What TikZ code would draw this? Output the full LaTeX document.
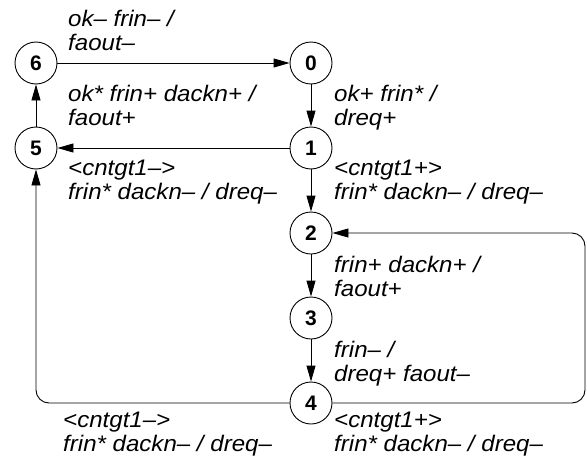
\documentclass[tikz,border=0pt]{standalone}
\usepackage{fontspec}
\setmainfont{Liberation Sans}
\newfontfamily\lblfont[FakeStretch=1.07]{Liberation Sans}
\usetikzlibrary{arrows.meta}
\tikzset{
  state/.style={circle,draw,line width=0.9pt,minimum size=42pt,inner sep=0pt,font=\fontsize{21}{21}\selectfont\bfseries},
  lbl/.style={anchor=base west,align=left,inner sep=0pt,font=\lblfont\fontsize{22.5}{24}\selectfont\itshape},
  tr/.style={draw,line width=0.9pt,-{Triangle[length=16pt,width=9pt]}},
}
\begin{document}
\begin{tikzpicture}[x=1pt,y=-1pt]
\useasboundingbox (0,0) rectangle (587,458);
\node[state] (s6) at (36,63) {6};
\node[state] (s0) at (311,63) {0};
\node[state] (s5) at (36,148) {5};
\node[state] (s1) at (311,148) {1};
\node[state] (s2) at (311,233) {2};
\node[state] (s3) at (311,318) {3};
\node[state] (s4) at (311,403) {4};
\coordinate (r1) at (585,403);
\coordinate (r2) at (585,233);
\coordinate (l1) at (36,403);
\draw[tr] (s6) -- (s0);
\draw[tr] (s0) -- (s1);
\draw[tr] (s1) -- (s5);
\draw[tr] (s5) -- (s6);
\draw[tr] (s1) -- (s2);
\draw[tr] (s2) -- (s3);
\draw[tr] (s3) -- (s4);
\draw[tr,rounded corners=13pt] (s4.east) -- (r1) -- (r2) -- (s2.east);
\draw[tr,rounded corners=13pt] (s4.west) -- (l1) -- (s5.south);
\node[lbl] (t60) at (68,50) {ok– frin– /\\faout–};
\node[lbl] (t56) at (68,125) {ok* frin+ dackn+ /\\faout+};
\node[lbl] (t01) at (334,125) {ok+ frin* /\\dreq+};
\node[lbl] (t15) at (68,199) {<cntgt1–>\\frin* dackn– / dreq–};
\node[lbl] (t12) at (334,199) {<cntgt1+>\\frin* dackn– / dreq–};
\node[lbl] (t23) at (334,296) {frin+ dackn+ /\\faout+};
\node[lbl] (t34) at (334,381) {frin– /\\dreq+ faout–};
\node[lbl] (t45) at (63,451) {<cntgt1–>\\frin* dackn– / dreq–};
\node[lbl] (t42) at (334,451) {<cntgt1+>\\frin* dackn– / dreq–};
\end{tikzpicture}
\end{document}
